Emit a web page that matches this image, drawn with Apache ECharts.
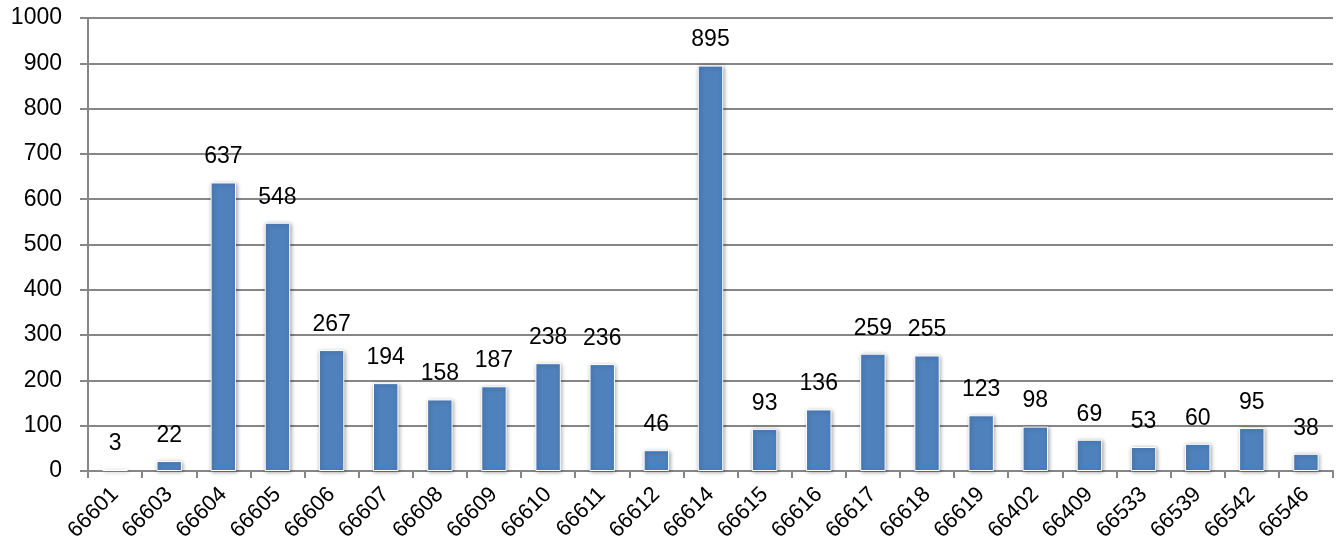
<!DOCTYPE html>
<html>
<head>
<meta charset="utf-8">
<script src="https://cdn.jsdelivr.net/npm/echarts@6/dist/echarts.min.js"></script>
<style>
  html, body { margin: 0; padding: 0; background: #fff; }
  #chart { width: 1338px; height: 555px; }
</style>
</head>
<body>
<div id="chart"></div>
<script>
// 分类编号
var categories = ['66601', '66603', '66604', '66605', '66606', '66607', '66608', '66609', '66610', '66611', '66612', '66614',
  '66615', '66616', '66617', '66618', '66619', '66402', '66409', '66533', '66539', '66542', '66546']
// 数值
var values = [3, 22, 637, 548, 267, 194, 158, 187, 238, 236, 46, 895, 93, 136, 259, 255, 123, 98, 69, 53, 60, 95, 38]

var chart = echarts.init(document.getElementById('chart'))
chart.setOption({
  animation: false,
  textStyle: { fontFamily: 'Liberation Sans' },
  grid: { left: 88, right: 5, top: 18, bottom: 84 },
  xAxis: {
    type: 'category',
    data: categories,
    boundaryGap: true,
    axisLine: { lineStyle: { color: '#868686', width: 2 } },
    axisTick: { show: true, length: 7, lineStyle: { color: '#868686', width: 2 } },
    axisLabel: { rotate: 45, color: '#000', fontSize: 22, margin: 20, interval: 0 }
  },
  yAxis: {
    type: 'value',
    min: 0,
    max: 1000,
    interval: 100,
    axisLine: { show: true, lineStyle: { color: '#868686', width: 2 } },
    axisTick: { show: true, length: 8, lineStyle: { color: '#868686', width: 2 } },
    axisLabel: { color: '#000', fontSize: 23, margin: 26, formatter: function (v) { return String(v) } },
    splitLine: { lineStyle: { color: '#868686', width: 2 } }
  },
  series: [
    {
      type: 'bar',
      data: values,
      barWidth: '47%',
      itemStyle: {
        color: '#4F81BD',
        borderColor: '#fff',
        borderWidth: 1,
        shadowBlur: 4,
        shadowColor: 'rgba(0,0,0,0.35)',
        shadowOffsetX: 1,
        shadowOffsetY: 1
      },
      label: {
        show: true,
        position: 'top',
        distance: 14,
        color: '#000',
        fontSize: 23
      }
    }
  ]
})
</script>
</body>
</html>
